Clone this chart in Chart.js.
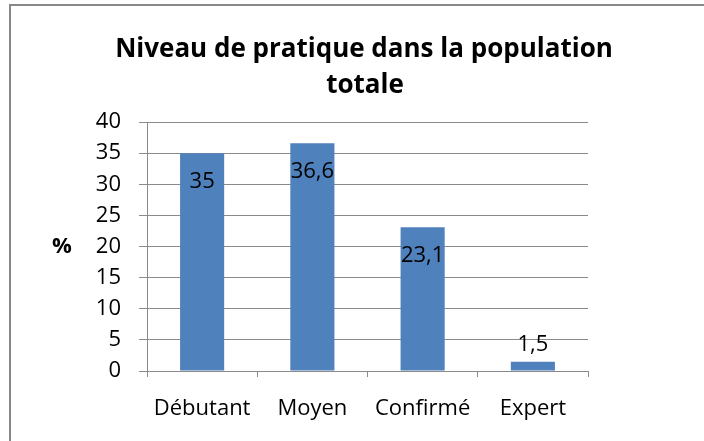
<!DOCTYPE html>
<html>
<head>
<meta charset="utf-8">
<script src="https://cdn.jsdelivr.net/npm/chart.js@4.4.0/dist/chart.umd.min.js"></script>
<style>
html,body{margin:0;padding:0;background:#fff;}
#wrap{width:704px;height:441px;position:relative;}
</style>
</head>
<body>
<div id="wrap"><canvas id="c" width="704" height="441"></canvas></div>
<script>
const categories = ["Débutant", "Moyen", "Confirmé", "Expert"];
const values = [35, 36.6, 23.1, 1.5];
const yTicks = [0, 5, 10, 15, 20, 25, 30, 35, 40];
const titleLines = ["Niveau de pratique dans la population", "totale"];
const yAxisLabel = "%";

const FONT = "'Open Sans', sans-serif";
const GRID = "#8a8a8a";

const framePlugin = {
  id: "frame",
  beforeDraw(chart) {
    const ctx = chart.ctx;
    ctx.save();
    ctx.fillStyle = "#fff";
    ctx.fillRect(0, 0, chart.width, chart.height);
    ctx.strokeStyle = "#888888";
    ctx.lineWidth = 2;
    ctx.beginPath();
    ctx.moveTo(10, chart.height + 2);
    ctx.lineTo(10, 5);
    ctx.lineTo(chart.width + 2, 5);
    ctx.stroke();
    ctx.restore();
  },
  afterDraw(chart) {
    const ctx = chart.ctx;
    const area = chart.chartArea;
    ctx.save();
    ctx.fillStyle = "#000";
    ctx.textAlign = "center";
    ctx.textBaseline = "middle";
    // title
    ctx.font = "bold 26px " + FONT;
    ctx.fillText(titleLines[0], 364, 50);
    ctx.fillText(titleLines[1], 365, 86);
    // y axis label
    ctx.font = "bold 22px " + FONT;
    ctx.fillText(yAxisLabel, 62, (area.top + area.bottom) / 2);
    // data labels
    ctx.font = "22px " + FONT;
    const meta = chart.getDatasetMeta(0);
    meta.data.forEach((bar, i) => {
      const v = values[i];
      const txt = String(v).replace(".", ",");
      const y = v > 5 ? bar.y + 29 : bar.y - 17;
      ctx.fillText(txt, bar.x, y);
    });
    ctx.restore();
  }
};

new Chart(document.getElementById("c"), {
  type: "bar",
  data: {
    labels: categories,
    datasets: [{
      data: values,
      backgroundColor: "#4F81BD",
      borderWidth: 0,
      barPercentage: 0.4,
      categoryPercentage: 1.0
    }]
  },
  options: {
    responsive: false,
    animation: false,
    devicePixelRatio: 1,
    layout: { padding: { top: 122, left: 0, right: 116, bottom: 0 } },
    plugins: {
      legend: { display: false },
      tooltip: { enabled: false },
      title: { display: false }
    },
    scales: {
      x: {
        afterFit(s) { s.height = 70; },
        grid: { display: true, drawOnChartArea: false, drawTicks: true, tickLength: 6, color: GRID, offset: true },
        border: { display: true, color: GRID, width: 1 },
        ticks: { color: "#000", font: { family: FONT, size: 22 }, padding: 19 }
      },
      y: {
        min: 0, max: 40,
        afterFit(s) { s.width = 147; },
        afterBuildTicks(s) { s.ticks = yTicks.map(v => ({ value: v })); },
        grid: { color: GRID, tickLength: 8, drawTicks: true },
        border: { display: true, color: GRID, width: 1 },
        ticks: { color: "#000", font: { family: FONT, size: 22 }, padding: 18 }
      }
    }
  },
  plugins: [framePlugin]
});
</script>
</body>
</html>
